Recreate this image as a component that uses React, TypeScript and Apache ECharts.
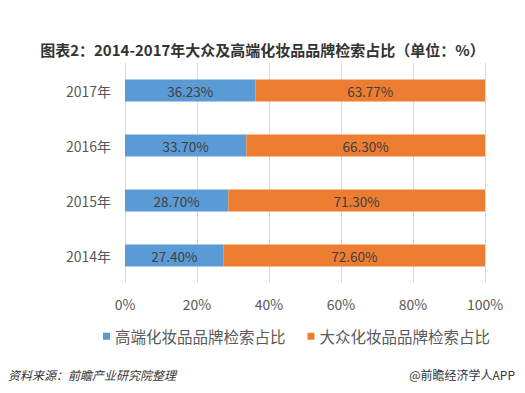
import React, { useEffect, useRef } from "react";
import * as echarts from "echarts";

const categories = ["2014年", "2015年", "2016年", "2017年"];
const premiumShare = [27.4, 28.7, 33.7, 36.23];
const massShare = [72.6, 71.3, 66.3, 63.77];
const seriesNames = ["高端化妆品品牌检索占比", "大众化妆品品牌检索占比"];
const xTicks = [0, 20, 40, 60, 80, 100];

export default function App() {
  const ref = useRef<HTMLDivElement>(null);
  useEffect(() => {
    if (!ref.current) return;
    const chart = echarts.init(ref.current, null, { renderer: "svg" });
    const font = "'Microsoft YaHei', 'Noto Sans CJK SC', sans-serif";
    chart.setOption({
      animation: false,
      backgroundColor: "#ffffff",
      textStyle: { fontFamily: font },
      title: {
        text: "图表2：2014-2017年大众及高端化妆品品牌检索占比（单位：%）",
        left: "center",
        top: 37,
        textStyle: { fontSize: 15, fontWeight: "bold", color: "#333333", fontFamily: font },
      },
      grid: { left: 125, right: 40, top: 63, bottom: 110, containLabel: false },
      legend: {
        bottom: 44,
        left: 98,
        itemWidth: 7,
        itemHeight: 7,
        itemGap: 22,
        icon: "rect",
        textStyle: { fontSize: 15.5, color: "#595959", fontFamily: font },
        data: seriesNames,
      },
      xAxis: {
        type: "value",
        min: 0,
        max: 100,
        interval: 20,
        axisLine: { show: false },
        axisTick: { show: false },
        splitLine: { show: true, lineStyle: { color: "#d9d9d9", width: 1 } },
        axisLabel: {
          fontSize: 14,
          color: "#595959",
          margin: 14,
          formatter: (v: number) => (xTicks.includes(v) ? v + "%" : ""),
        },
      },
      yAxis: {
        type: "category",
        data: categories,
        axisLine: { show: false },
        axisTick: { show: false },
        axisLabel: { fontSize: 14, color: "#595959", margin: 14 },
      },
      series: [
        {
          name: seriesNames[0],
          type: "bar",
          stack: "total",
          barWidth: 22,
          data: premiumShare,
          itemStyle: { color: "#5B9BD5" },
          label: {
            show: true,
            position: "inside",
            color: "#404040",
            fontSize: 13.5,
            formatter: (p: any) => p.value.toFixed(2) + "%",
          },
        },
        {
          name: seriesNames[1],
          type: "bar",
          stack: "total",
          barWidth: 22,
          data: massShare,
          itemStyle: { color: "#ED7D31" },
          label: {
            show: true,
            position: "inside",
            color: "#404040",
            fontSize: 13.5,
            formatter: (p: any) => p.value.toFixed(2) + "%",
          },
        },
      ],
      graphic: [
        {
          type: "text",
          left: 8,
          top: 368,
          style: {
            text: "资料来源：前瞻产业研究院整理",
            font: "italic 12px " + font,
            fill: "#333333",
          },
        },
        {
          type: "text",
          right: 10,
          top: 368,
          style: {
            text: "@前瞻经济学人APP",
            font: "12px " + font,
            fill: "#333333",
          },
        },
      ],
    });
    return () => chart.dispose();
  }, []);
  return (
    <div
      ref={ref}
      style={{ position: "fixed", left: 0, top: 0, width: 525, height: 393 }}
    />
  );
}
